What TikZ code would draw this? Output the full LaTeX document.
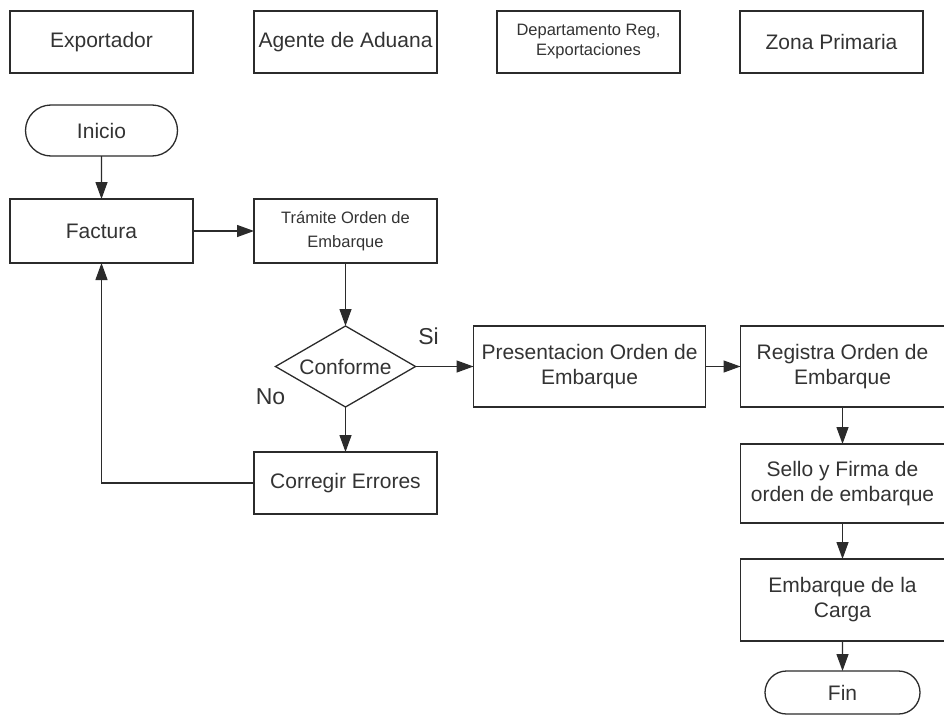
\documentclass[tikz,border=0pt]{standalone}
\usepackage{fontspec}
\setmainfont{Liberation Sans}
\usepackage{tikz}
\usetikzlibrary{arrows.meta,positioning,shapes.geometric,shapes.misc}
\definecolor{lineGray}{HTML}{2B2B2B}
\definecolor{textGray}{HTML}{333333}
\newcommand{\mainsize}{\fontsize{21}{25}\selectfont}
\newcommand{\smallsize}{\fontsize{16.5}{20}\selectfont}
\tikzset{
  fc/base/.style={draw=lineGray, line width=1.3pt, inner sep=0pt, outer sep=0pt, align=center, text=textGray, font=\mainsize},
  fc/lane/.style={fc/base, minimum width=183pt, minimum height=62pt},
  fc/proc/.style={fc/base, minimum width=183pt, minimum height=64pt},
  fc/wide/.style={fc/base, minimum width=204pt, minimum height=81pt},
  fc/term/.style={fc/base, rounded rectangle, minimum width=152pt, minimum height=51pt},
  fc/decision/.style={fc/base, diamond, aspect=1.73, minimum width=140pt, minimum height=81pt},
  fc/label/.style={text=textGray, font=\fontsize{23}{27}\selectfont, inner sep=0pt},
  arr/.style={-{Triangle[length=17pt,width=12pt]}, draw=lineGray, line width=1.3pt}
}

\begin{document}
\begin{tikzpicture}[x=1pt, y=-1pt]
\useasboundingbox (0,0) rectangle (944,720);
% carriles
\node[fc/lane] (exportador) at (101.5,42) {Exportador};
\node[fc/lane, right=61pt of exportador] (agente) {Agente de Aduana};
\node[fc/lane, right=60pt of agente, font=\smallsize] (depto) {Departamento Reg,\\Exportaciones};
\node[fc/lane, right=60pt of depto] (zona) {Zona Primaria};
% flujo
\node[fc/term] (inicio) at (101.5,130.5) {Inicio};
\node[fc/proc, below=43pt of inicio] (factura) {Factura};
\node[fc/proc, right=61pt of factura, font=\fontsize{16.5}{24}\selectfont] (tramite) {Trámite Orden de\\Embarque};
\node[fc/decision, below=63pt of tramite] (conforme) {Conforme};
\node[fc/wide, minimum width=232pt, right=58pt of conforme] (presenta) {Presentacion Orden de\\Embarque};
\node[fc/wide, right=35pt of presenta] (registra) {Registra Orden de\\Embarque};
\node[fc/wide, minimum height=79pt, below=37pt of registra] (sello) {Sello y Firma de\\orden de embarque};
\node[fc/wide, minimum height=82pt, below=36pt of sello] (carga) {Embarque de la\\Carga};
\node[fc/term, minimum width=155pt, minimum height=43pt, below=30pt of carga] (fin) {Fin};
\node[fc/proc, minimum height=62pt, below=45pt of conforme] (corregir) {Corregir Errores};
\node[fc/label] (si) at ([xshift=13pt,yshift=30pt]conforme.east) {Si};
\node[fc/label] (no) at ([xshift=-5pt,yshift=-30pt]conforme.west) {No};
\draw[arr] (inicio) -- (factura);
\draw[arr] (factura) -- (tramite);
\draw[arr] (tramite) -- (conforme);
\draw[arr] (conforme) -- (presenta);
\draw[arr] (presenta) -- (registra);
\draw[arr] (conforme) -- (corregir);
\draw[arr] (corregir) -| (factura);
\draw[arr] (registra) -- (sello);
\draw[arr] (sello) -- (carga);
\draw[arr] (carga) -- (fin);
\end{tikzpicture}
\end{document}
